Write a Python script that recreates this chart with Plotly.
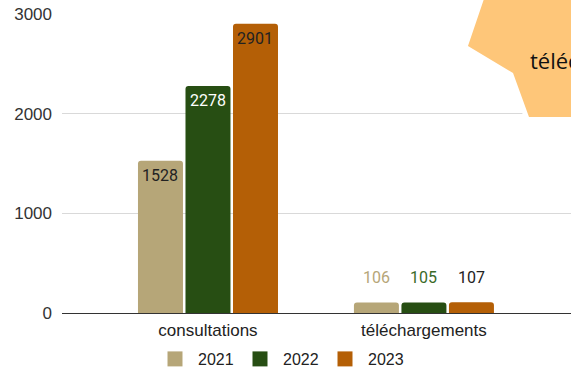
import plotly.graph_objects as go

# Data
categories = ["consultations", "téléchargements"]
years = ["2021", "2022", "2023"]
values_2021 = [1528, 106]
values_2022 = [2278, 105]
values_2023 = [2901, 107]
y_ticks = [0, 1000, 2000, 3000]

series = [values_2021, values_2022, values_2023]
bar_colors = ["#b6a678", "#274e13", "#b45f06"]
# label colours: [inside label (consultations), outside label (téléchargements)]
label_colors = [["#222222", "#b6a678"], ["#ffffff", "#3a6a28"], ["#222222", "#222222"]]

W, H = 571, 373
L, R, T, B = 62, 0, 14, 60
plot_w = W - L - R
plot_h = H - T - B

fig = go.Figure()
for name, vals, col in zip(years, series, bar_colors):
    fig.add_trace(go.Bar(
        x=categories, y=vals, name=name, legendgroup=name, showlegend=False,
        marker=dict(color=col, line=dict(width=0)),
        hoverinfo="skip",
    ))
    # legend entry with a larger square swatch
    fig.add_trace(go.Scatter(
        x=[None], y=[None], name=name, legendgroup=name, mode="markers",
        marker=dict(symbol="square", size=15, color=col),
        hoverinfo="skip",
    ))

# value labels
pitch = 47.5
annotations = []
for i, (vals, cols) in enumerate(zip(series, label_colors)):
    for j, (cat, v) in enumerate(zip(categories, vals)):
        inside = v > 500
        annotations.append(dict(
            x=cat, y=v, xref="x", yref="y",
            text=str(v), showarrow=False,
            xshift=(i - 1) * pitch,
            yshift=-15 if inside else 25,
            yanchor="middle", xanchor="center",
            font=dict(family="Roboto", size=16, color=cols[j]),
        ))

# callout shape in the top-right corner
def px(x):
    return (x - L) / plot_w

def py(y):
    return (H - B - y) / plot_h

pts = [(487, -10), (468, 46), (513, 73), (529, 117), (620, 117), (620, -10)]
path = "M " + " L ".join(f"{px(x):.4f},{py(y):.4f}" for x, y in pts) + " Z"
shapes = [
    dict(type="path", path=path, xref="paper", yref="paper",
         fillcolor="#ffffff", line=dict(color="#ffffff", width=10), layer="above"),
    dict(type="path", path=path, xref="paper", yref="paper",
         fillcolor="#fec679", line=dict(width=0), layer="above"),
]
annotations.append(dict(
    x=px(528), y=py(60), xref="paper", yref="paper",
    text="téléchargements", showarrow=False,
    xanchor="left", yanchor="middle",
    font=dict(family="Open Sans", size=22, color="#111111"),
))

fig.update_layout(
    width=W, height=H,
    margin=dict(l=L, r=R, t=T, b=B, pad=0, autoexpand=False),
    paper_bgcolor="white", plot_bgcolor="white",
    barmode="group", bargap=0.34, bargroupgap=0.053,
    barcornerradius=3,
    font=dict(family="Liberation Sans, Arial", size=16, color="#333333"),
    xaxis=dict(
        type="category", range=[-0.676, 1.681],
        showgrid=False, showline=False, ticks="",
        tickfont=dict(size=17, color="#222222"),
        ticklabelstandoff=5,
    ),
    yaxis=dict(
        range=[0, 3000], tickvals=y_ticks, ticktext=[str(t) for t in y_ticks],
        showgrid=True, gridcolor="#d9d9d9", gridwidth=1,
        zeroline=True, zerolinecolor="#333333", zerolinewidth=1,
        showline=False, ticks="", ticklabelstandoff=9,
        tickfont=dict(size=17, color="#333333"),
    ),
    legend=dict(
        orientation="h", x=px(152), xanchor="left",
        y=py(359), yanchor="middle",
        font=dict(size=16, color="#222222"),
        bgcolor="rgba(0,0,0,0)",
        itemwidth=36, entrywidth=34, entrywidthmode="pixels",
    ),
    annotations=annotations,
    shapes=shapes,
    showlegend=True,
)

fig.write_html("out.html")
